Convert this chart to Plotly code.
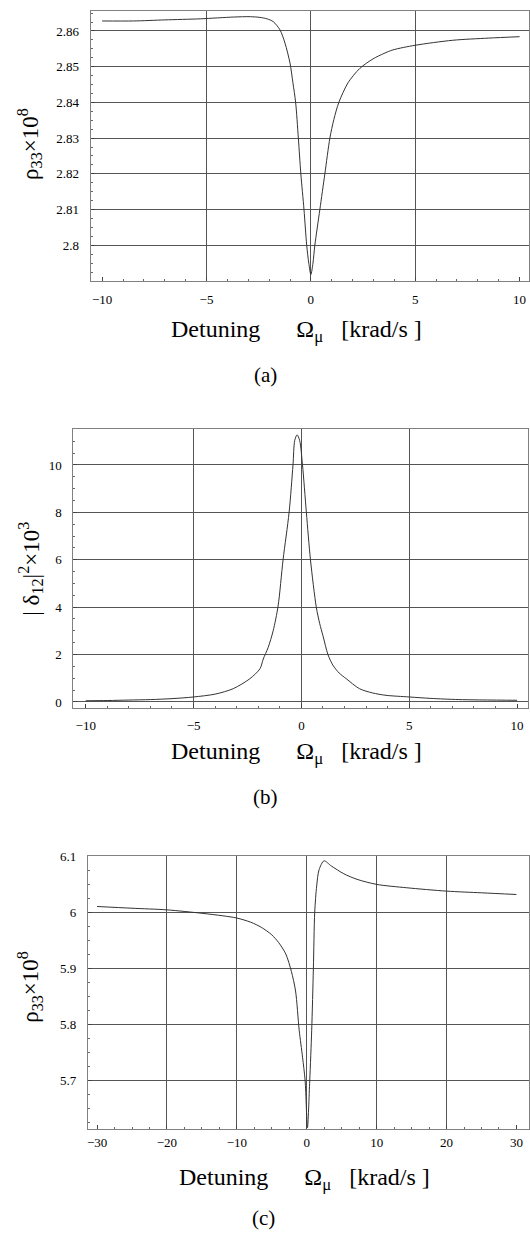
import plotly.graph_objects as go

# ---------------- data ----------------
# panel (a): rho33 x 1e8 vs detuning (krad/s)
a_x = [-10, -8.5, -7, -5.3, -3.7, -2.9, -2.44, -2.1, -1.8, -1.48, -1.24, -1.0, -0.86,
       -0.73, -0.6, -0.48, -0.33, -0.2, -0.1, 0.0, 0.1, 0.19, 0.43, 0.67, 0.91, 1.1,
       1.34, 1.78, 2.34, 2.98, 3.5, 3.93, 5.0, 6.8, 8.5, 10.0]
a_y = [2.8628, 2.8628, 2.8631, 2.8634, 2.8639, 2.8640, 2.8638, 2.8634, 2.8626, 2.8603,
       2.8566, 2.8510, 2.8455, 2.8400, 2.8300, 2.8200, 2.8100, 2.8000, 2.7950, 2.7918,
       2.7950, 2.8000, 2.8100, 2.8200, 2.8300, 2.8352, 2.8400, 2.8455, 2.8495, 2.8522,
       2.8537, 2.8547, 2.8560, 2.8574, 2.8580, 2.8584]

# panel (b): |delta12|^2 x 1e3 vs detuning (krad/s)
b_x = [-10, -9, -8, -7, -6, -5, -4, -3.16, -2.39, -1.92, -1.77, -1.54, -1.31, -1.08,
       -0.85, -0.57, -0.39, -0.31, -0.2, -0.08, 0.05, 0.23, 0.42, 0.69, 0.85, 1.0, 1.23,
       1.46, 1.75, 2.08, 2.69, 3.3, 3.92, 5.0, 6.0, 7.3, 10.0]
b_y = [0.05, 0.06, 0.08, 0.10, 0.14, 0.21, 0.33, 0.56, 0.98, 1.40, 1.81, 2.30, 3.00,
       4.05, 6.0, 8.0, 10.0, 11.03, 11.27, 11.03, 10.0, 8.0, 6.0, 4.0, 3.3, 2.79, 2.0,
       1.55, 1.22, 0.98, 0.56, 0.38, 0.28, 0.21, 0.15, 0.10, 0.07]

# panel (c): rho33 x 1e8 vs detuning (krad/s)
c_x = [-30, -25, -20, -15, -12, -10, -8, -6.5, -5, -4, -3, -2.2, -1.6, -1.08, -0.6,
       -0.23, 0.1, 0.43, 0.71, 0.95, 1.14, 1.42, 1.76, 2.47, 3.5, 5.3, 7.2, 10, 14.3,
       20, 25, 30]
c_y = [6.0106, 6.0075, 6.0046, 5.9985, 5.9940, 5.9900, 5.9825, 5.9735, 5.9600, 5.9460,
       5.9260, 5.8950, 5.8600, 5.7900, 5.7420, 5.7000, 5.6160, 5.7000, 5.7900, 5.9000,
       6.0000, 6.0470, 6.0760, 6.0920, 6.0830, 6.0690, 6.0590, 6.0500, 6.0440, 6.0380,
       6.0350, 6.0320]

# tick labels
a_xticks = [-10, -5, 0, 5, 10]
a_xgrid = [-5, 0, 5]
a_yticks = [2.80, 2.81, 2.82, 2.83, 2.84, 2.85, 2.86]
a_ytext = ["2.8", "2.81", "2.82", "2.83", "2.84", "2.85", "2.86"]

b_xticks = [-10, -5, 0, 5, 10]
b_xgrid = [-5, 0, 5]
b_yticks = [0, 2, 4, 6, 8, 10]
b_ytext = ["0", "2", "4", "6", "8", "10"]

c_xticks = [-30, -20, -10, 0, 10, 20, 30]
c_xgrid = [-20, -10, 0, 10, 20]
c_yticks = [5.7, 5.8, 5.9, 6.0, 6.1]
c_ytext = ["5.7", "5.8", "5.9", "6", "6.1"]

xlabel = "Detuning\u00a0\u00a0\u00a0\u00a0\u00a0\u00a0Ω<sub>μ</sub>\u00a0\u00a0\u00a0[krad/s ]"
ylabel_a = "ρ<sub>33</sub>×10<sup>8</sup>"
ylabel_b = "| δ<sub>12</sub>|<sup>2</sup>×10<sup>3</sup>"
ylabel_c = "ρ<sub>33</sub>×10<sup>8</sup>"

# ---------------- layout helpers ----------------
W, H = 530, 1239
SERIF = "Liberation Serif, Times New Roman, serif"
LINE = "#333333"
GRID = "#555555"
FRAME = "#808080"


def xd(px0, px1):
    return [px0 / W, px1 / W]


def yd(top, bottom):
    return [1 - bottom / H, 1 - top / H]


panels = [
    dict(x=a_x, y=a_y, xr=[-10.55, 10.45], yr=[2.79, 2.8656], xdom=xd(90, 530), ydom=yd(4, 276),
         xt=a_xticks, xg=a_xgrid, yt=a_yticks, ytt=a_ytext, xminor=1, yminor=0.0025, xso=6),
    dict(x=b_x, y=b_y, xr=[-10.57, 10.52], yr=[-0.25, 11.52], xdom=xd(72.7, 529.3), ydom=yd(425, 706),
         xt=b_xticks, xg=b_xgrid, yt=b_yticks, ytt=b_ytext, xminor=1, yminor=0.5, xso=6),
    dict(x=c_x, y=c_y, xr=[-31.3, 31.8], yr=[5.613, 6.101], xdom=xd(87.3, 530), ydom=yd(855, 1130.7),
         xt=c_xticks, xg=c_xgrid, yt=c_yticks, ytt=c_ytext, xminor=2.5, yminor=0.025, xso=1),
]

fig = go.Figure()
layout = dict(width=W, height=H, margin=dict(l=0, r=0, t=0, b=0),
              paper_bgcolor="white", plot_bgcolor="white", showlegend=False,
              font=dict(family=SERIF, color="black", size=13))

for i, p in enumerate(panels, start=1):
    sx = "" if i == 1 else str(i)
    ox = str(i + 3)
    fig.add_trace(go.Scatter(x=p["x"], y=p["y"], mode="lines",
                             line=dict(color=LINE, width=1, shape="spline", smoothing=0.8),
                             xaxis="x" + sx, yaxis="y" + sx, hoverinfo="skip"))
    # empty helper trace so the grid axis is drawn
    fig.add_trace(go.Scatter(x=[], y=[], xaxis="x" + ox, yaxis="y" + sx, hoverinfo="skip"))
    layout["xaxis" + sx] = dict(
        domain=p["xdom"], range=p["xr"], anchor="y" + sx,
        tickmode="array", tickvals=p["xt"], ticks="inside", ticklen=4, tickcolor="#444",
        tickwidth=1, showgrid=False, zeroline=False,
        showline=True, linecolor=FRAME, linewidth=1, mirror=True,
        ticklabelstandoff=p["xso"], tickfont=dict(family=SERIF, size=13, color="black"),
        minor=dict(ticks="inside", ticklen=2, dtick=p["xminor"], tick0=0, tickcolor="#666"),
    )
    layout["xaxis" + ox] = dict(
        overlaying="x" + sx, anchor="y" + sx, side="bottom", range=p["xr"],
        tickmode="array", tickvals=p["xg"], showticklabels=False, ticks="",
        showgrid=True, gridcolor=GRID, gridwidth=1, zeroline=False, showline=False,
    )
    layout["yaxis" + sx] = dict(
        domain=p["ydom"], range=p["yr"], anchor="x" + sx,
        tickmode="array", tickvals=p["yt"], ticktext=p["ytt"],
        ticks="inside", ticklen=4, tickcolor="#444", tickwidth=1,
        showgrid=True, gridcolor=GRID, gridwidth=1, zeroline=False,
        showline=True, linecolor=FRAME, linewidth=1, mirror=True,
        ticklabelstandoff=8, tickfont=dict(family=SERIF, size=13, color="black"),
        minor=dict(ticks="inside", ticklen=2, dtick=p["yminor"], tick0=0, tickcolor="#666"),
    )

ann = []
for (cx, cy) in [(297, 326), (297, 751), (305, 1181)]:
    ann.append(dict(text=xlabel, x=cx / W, y=1 - cy / H, xref="paper", yref="paper",
                    showarrow=False, xanchor="center", yanchor="middle",
                    font=dict(family=SERIF, size=24, color="black")))
for lab, (cx, cy) in zip(["(a)", "(b)", "(c)"], [(265, 371), (265, 796), (263, 1220)]):
    ann.append(dict(text=lab, x=cx / W, y=1 - cy / H, xref="paper", yref="paper",
                    showarrow=False, xanchor="center", yanchor="middle",
                    font=dict(family=SERIF, size=21, color="black")))
for lab, (cx, cy) in zip([ylabel_a, ylabel_b, ylabel_c], [(29, 138), (30, 566), (29, 987)]):
    ann.append(dict(text=lab, x=cx / W, y=1 - cy / H, xref="paper", yref="paper",
                    showarrow=False, xanchor="center", yanchor="middle", textangle=-90,
                    font=dict(family=SERIF, size=23, color="black")))
layout["annotations"] = ann

fig.update_layout(**layout)
fig.write_html("out.html", config={"displayModeBar": False},
               post_script="document.body.style.margin='0';document.body.style.padding='0';")
